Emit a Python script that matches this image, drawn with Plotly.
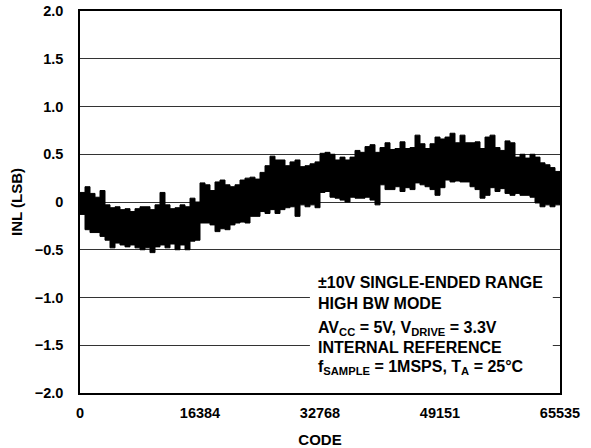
import plotly.graph_objects as go

CODE_MAX = 65535

# INL band, one pair every ~683 codes (upper / lower edge, LSB)
inl_upper = [
    0.10, 0.16, 0.09, 0.05, 0.12, -0.03, -0.06, -0.05, -0.08, -0.07,
    -0.10, -0.07, -0.05, -0.05, -0.08, -0.03, 0.10, -0.03, -0.07, -0.06,
    -0.03, -0.05, 0.04, 0.00, 0.20, 0.18, 0.12, 0.21, 0.23, 0.18,
    0.16, 0.18, 0.23, 0.25, 0.26, 0.24, 0.31, 0.38, 0.48, 0.44,
    0.44, 0.38, 0.42, 0.44, 0.37, 0.38, 0.40, 0.42, 0.51, 0.52,
    0.50, 0.44, 0.47, 0.44, 0.47, 0.54, 0.52, 0.58, 0.60, 0.52,
    0.57, 0.62, 0.55, 0.56, 0.63, 0.56, 0.57, 0.70, 0.61, 0.56,
    0.61, 0.68, 0.66, 0.68, 0.72, 0.62, 0.70, 0.62, 0.62, 0.63,
    0.56, 0.68, 0.70, 0.57, 0.54, 0.64, 0.62, 0.47, 0.50, 0.46,
    0.50, 0.47, 0.41, 0.39, 0.36, 0.32, 0.28,
]
inl_lower = [
    -0.13, -0.29, -0.32, -0.32, -0.36, -0.40, -0.48, -0.43, -0.45, -0.47,
    -0.45, -0.48, -0.50, -0.48, -0.53, -0.47, -0.45, -0.48, -0.44, -0.50,
    -0.45, -0.50, -0.41, -0.40, -0.22, -0.22, -0.24, -0.31, -0.28, -0.29,
    -0.24, -0.22, -0.21, -0.22, -0.15, -0.15, -0.10, -0.12, -0.08, -0.12,
    -0.08, -0.06, -0.05, -0.15, -0.03, -0.05, -0.03, -0.06, 0.10, 0.11,
    0.05, 0.04, 0.02, 0.00, 0.05, 0.04, 0.04, 0.05, 0.02, -0.03,
    0.18, 0.13, 0.13, 0.16, 0.11, 0.15, 0.13, 0.20, 0.18, 0.16,
    0.13, 0.07, 0.15, 0.23, 0.21, 0.22, 0.21, 0.21, 0.16, 0.13,
    0.04, 0.07, 0.15, 0.11, 0.14, 0.09, 0.07, 0.09, 0.07, 0.07,
    0.05, -0.01, -0.05, -0.03, -0.05, -0.03, 0.12,
]
codes = [round(i * CODE_MAX / (len(inl_upper) - 1)) for i in range(len(inl_upper))]

x_ticks = [0, 16384, 32768, 49151, 65535]
y_ticks = [-2.0, -1.5, -1.0, -0.5, 0, 0.5, 1.0, 1.5, 2.0]
y_tick_text = ["\u22122.0", "\u22121.5", "\u22121.0", "\u22120.5", "0",
               "0.5", "1.0", "1.5", "2.0"]

note_lines = [
    "\u00b110V SINGLE-ENDED RANGE",
    "HIGH BW MODE",
    "AV<sub>CC</sub> = 5V, V<sub>DRIVE</sub> = 3.3V",
    "INTERNAL REFERENCE",
    "f<sub>SAMPLE</sub> = 1MSPS, T<sub>A</sub> = 25\u00b0C",
]

FONT = "Liberation Sans, Arial, Helvetica, sans-serif"

fig = go.Figure()

fig.add_trace(
    go.Scatter(
        x=codes,
        y=inl_lower,
        mode="lines",
        line=dict(color="black", width=1, shape="hv"),
        hoverinfo="skip"
    )
)

fig.add_trace(
    go.Scatter(
        x=codes,
        y=inl_upper,
        mode="lines",
        line=dict(color="black", width=1, shape="hv"),
        fill="tonexty",
        fillcolor="black",
        hoverinfo="skip"
    )
)

# white panel behind the test conditions
fig.add_shape(
    type="rect",
    xref="paper", yref="paper",
    x0=0.479, x1=0.985, y0=0.021, y1=0.335,
    fillcolor="white",
    line=dict(width=0),
    layer="above"
)

line_y = [0.288, 0.233, 0.168, 0.120, 0.066]
for text, yy in zip(note_lines, line_y):
    fig.add_annotation(
        text=text,
        xref="paper", yref="paper",
        x=0.491, y=yy,
        xanchor="left", yanchor="middle",
        showarrow=False,
        font=dict(family=FONT, size=16, color="black", weight="bold")
    )

fig.update_layout(
    width=591,
    height=448,
    margin=dict(l=80, r=31, t=11, b=55),
    plot_bgcolor="white",
    paper_bgcolor="white",
    showlegend=False,
    font=dict(family=FONT, color="black", weight="bold")
)

fig.update_xaxes(
    range=[0, CODE_MAX],
    tickvals=x_ticks,
    ticktext=[str(v) for v in x_ticks],
    tickfont=dict(size=14.5, weight="bold"),
    showgrid=False,
    zeroline=False,
    showline=True,
    linecolor="black",
    linewidth=1.5,
    mirror=True,
    ticks="",
    ticklabelstandoff=6,
    automargin=False,
    title=dict(text="CODE", font=dict(size=15, weight="bold"), standoff=14)
)

fig.update_yaxes(
    range=[-2.0, 2.0],
    tickvals=y_ticks,
    ticktext=y_tick_text,
    tickfont=dict(size=14.5, weight="bold"),
    showgrid=True,
    gridcolor="#333333",
    gridwidth=1,
    zeroline=False,
    showline=True,
    linecolor="black",
    linewidth=1.5,
    mirror=True,
    ticks="",
    ticklabelstandoff=12,
    automargin=False,
    title=dict(text="INL (LSB)", font=dict(size=15, weight="bold"), standoff=8)
)

fig.write_html(
    "out.html",
    config={"displayModeBar": False},
    post_script="document.body.style.margin='0';"
)
